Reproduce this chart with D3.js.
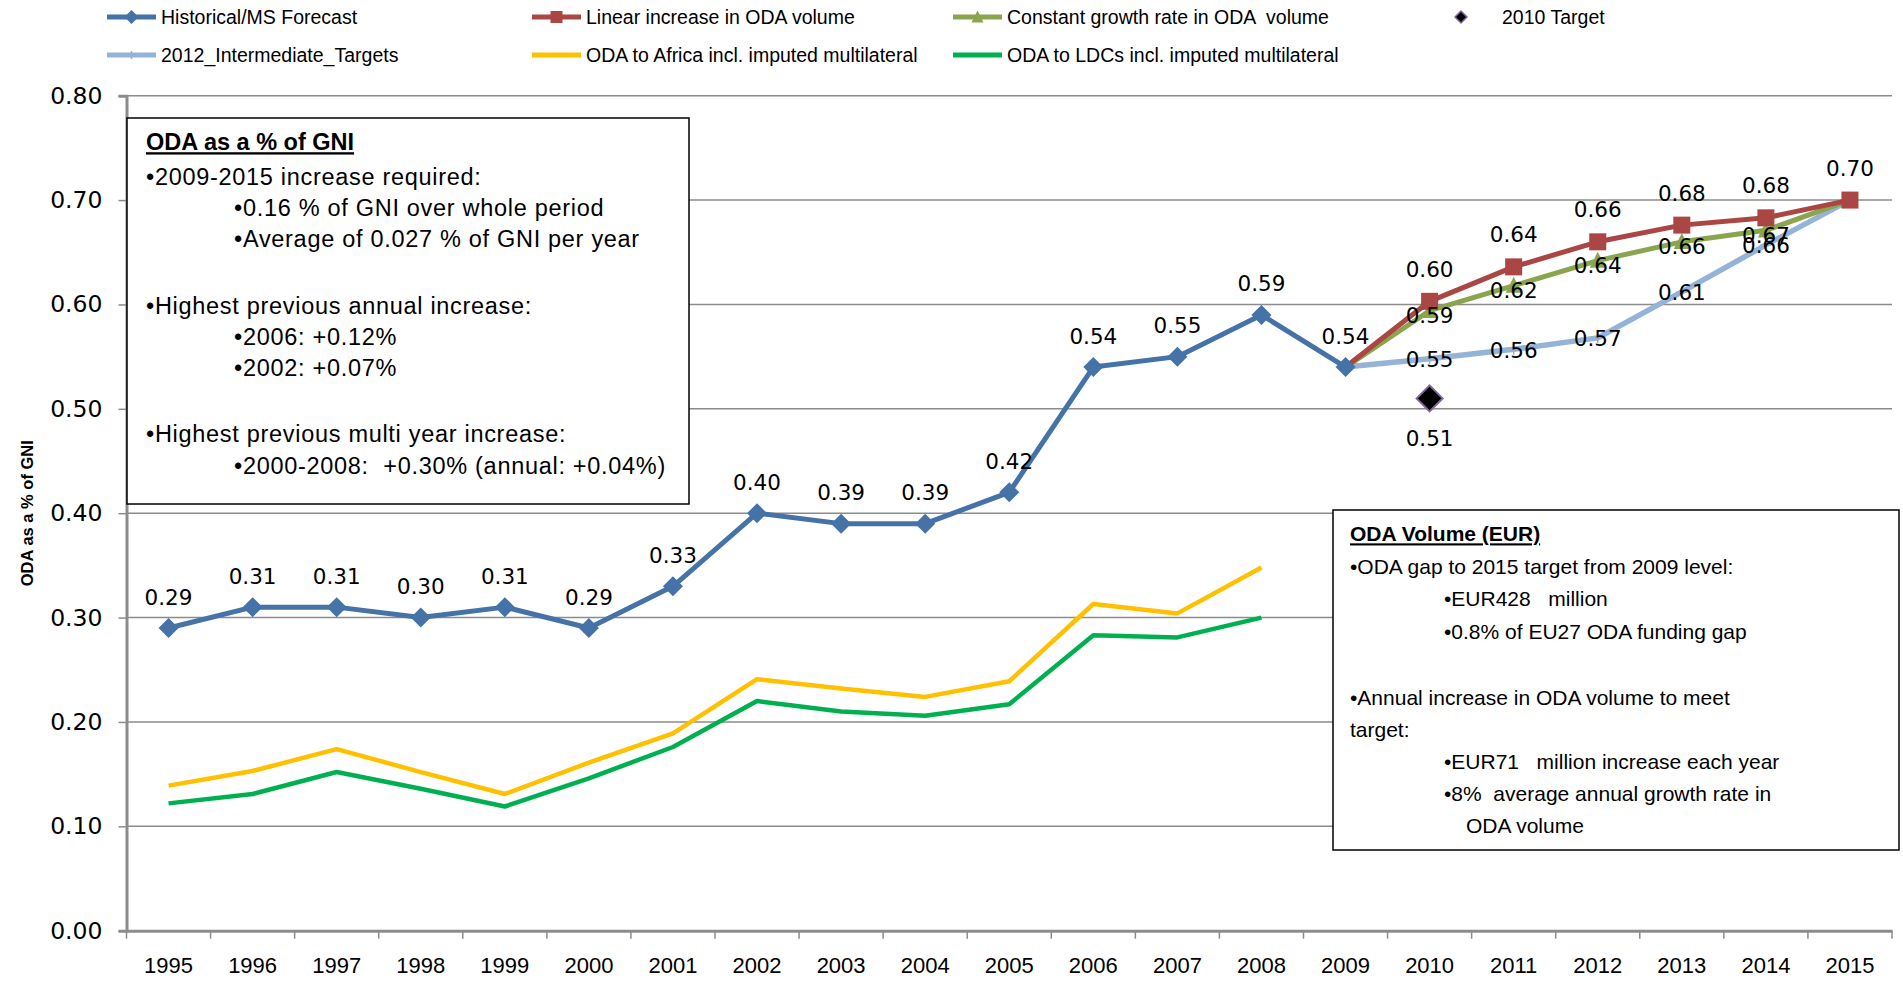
<!DOCTYPE html>
<html>
<head>
<meta charset="utf-8">
<script src="https://cdn.jsdelivr.net/npm/d3@7"></script>
<style>
body { margin: 0; background: #fff; }
text { font-family: "Liberation Sans", Arial, sans-serif; }
.lbl { font-family: "DejaVu Sans", Verdana, sans-serif; font-size: 21.5px; fill: #000; }
</style>
</head>
<body>
<div class="chart"></div>
<script>
// data
var years = [1995,1996,1997,1998,1999,2000,2001,2002,2003,2004,2005,2006,2007,2008,2009,2010,2011,2012,2013,2014,2015];
var histYears = [1995,1996,1997,1998,1999,2000,2001,2002,2003,2004,2005,2006,2007,2008,2009];
var historical = [0.29,0.31,0.31,0.30,0.31,0.29,0.33,0.40,0.39,0.39,0.42,0.54,0.55,0.59,0.54];
var forecastYears = [2009,2010,2011,2012,2013,2014,2015];
var linearIncrease = [0.54,0.603,0.636,0.660,0.676,0.683,0.700];
var constantGrowth = [0.54,0.594,0.618,0.642,0.660,0.671,0.700];
var intermediateTargets = [0.54,0.548,0.557,0.568,0.612,0.657,0.700];
var target2010 = [0.51];
var regionYears = [1995,1996,1997,1998,1999,2000,2001,2002,2003,2004,2005,2006,2007,2008];
var africa = [0.139,0.153,0.174,0.152,0.131,0.161,0.189,0.241,0.232,0.224,0.239,0.313,0.304,0.348];
var ldcs = [0.122,0.131,0.152,0.136,0.119,0.146,0.176,0.220,0.210,0.206,0.217,0.283,0.281,0.300];
var yTicks = [0,0.1,0.2,0.3,0.4,0.5,0.6,0.7,0.8];

var W = 1903, H = 981;
var plotLeft = 126.5, plotRight = 1892, plotTop = 95.7, plotBottom = 930.7;

var svg = d3.select(".chart").append("svg")
    .attr("width", W)
    .attr("height", H);

var x = d3.scaleBand().domain(years).range([plotLeft, plotRight]);
var y = d3.scaleLinear().domain([0, 0.8]).range([plotBottom, plotTop]);
var cx = function(yr) { return x(yr) + x.bandwidth() / 2; };
var fmt = d3.format(".2f");

// gridlines
svg.append("g").selectAll("line")
    .data(yTicks.filter(function(d) { return d > 0; }))
    .enter().append("line")
    .attr("x1", plotLeft).attr("x2", plotRight)
    .attr("y1", function(d) { return y(d); })
    .attr("y2", function(d) { return y(d); })
    .attr("stroke", "#8c8c8c")
    .attr("stroke-width", 1.5);

// y axis
var yAxis = svg.append("g")
    .attr("transform", "translate(" + plotLeft + ",0)")
    .call(d3.axisLeft(y).tickValues(yTicks).tickFormat(fmt).tickSize(8).tickPadding(16));
yAxis.select(".domain").attr("stroke", "#8c8c8c").attr("stroke-width", 3);
yAxis.selectAll(".tick line").attr("stroke", "#8c8c8c").attr("stroke-width", 1.5);
yAxis.selectAll(".tick text")
    .style("font-family", "'DejaVu Sans', Verdana, sans-serif")
    .style("font-size", "23.5px")
    .attr("fill", "#000");

// x axis (labels centred in bands, ticks between)
var xAxis = svg.append("g")
    .attr("transform", "translate(0," + plotBottom + ")")
    .call(d3.axisBottom(x).tickSize(0).tickPadding(27));
xAxis.select(".domain").attr("stroke", "#8c8c8c").attr("stroke-width", 3);
xAxis.selectAll(".tick text").style("font-size", "22px").attr("fill", "#000");
svg.append("g").selectAll("line")
    .data(years.concat(["end"]))
    .enter().append("line")
    .attr("x1", function(d) { return d === "end" ? plotRight : x(d); })
    .attr("x2", function(d) { return d === "end" ? plotRight : x(d); })
    .attr("y1", plotBottom).attr("y2", plotBottom + 8)
    .attr("stroke", "#8c8c8c")
    .attr("stroke-width", 1.5);

// y title
svg.append("text")
    .attr("transform", "translate(33," + ((plotTop + plotBottom) / 2) + ") rotate(-90)")
    .attr("text-anchor", "middle")
    .style("font-weight", "bold")
    .style("font-size", "16.5px")
    .text("ODA as a % of GNI");

// lines
var line = d3.line()
    .x(function(d) { return cx(d[0]); })
    .y(function(d) { return y(d[1]); });

function pairs(xs, vs) {
    return xs.map(function(yr, i) { return [yr, vs[i]]; });
}

var series = [
    {name: "africa", data: pairs(regionYears, africa), color: "#ffc000", width: 4.5},
    {name: "ldcs", data: pairs(regionYears, ldcs), color: "#00b050", width: 4.5},
    {name: "intermediate", data: pairs(forecastYears, intermediateTargets), color: "#95b3d7", width: 5.5},
    {name: "constant", data: pairs(forecastYears, constantGrowth), color: "#8aa54e", width: 5},
    {name: "linear", data: pairs(forecastYears, linearIncrease), color: "#aa4643", width: 5},
    {name: "historical", data: pairs(histYears, historical), color: "#4572a7", width: 5}
];

svg.append("g").selectAll("path")
    .data(series)
    .enter().append("path")
    .attr("d", function(d) { return line(d.data); })
    .attr("fill", "none")
    .attr("stroke", function(d) { return d.color; })
    .attr("stroke-width", function(d) { return d.width; })
    .attr("stroke-linejoin", "round");

// marker shapes
function diamond(r) { return "M0," + (-r) + "L" + r + ",0L0," + r + "L" + (-r) + ",0Z"; }
function square(s) { return "M" + (-s/2) + "," + (-s/2) + "h" + s + "v" + s + "h" + (-s) + "Z"; }
function triangle(s) { return "M0," + (-s*0.55) + "L" + (s/2) + "," + (s*0.45) + "L" + (-s/2) + "," + (s*0.45) + "Z"; }
function plus(s) { return "M0," + (-s/2) + "V" + (s/2) + "M" + (-s/2) + ",0H" + (s/2); }

function drawMarkers(data, path, fill, stroke, sw) {
    svg.append("g").selectAll("path")
        .data(data)
        .enter().append("path")
        .attr("transform", function(d) { return "translate(" + cx(d[0]) + "," + y(d[1]) + ")"; })
        .attr("d", path)
        .attr("fill", fill)
        .attr("stroke", stroke)
        .attr("stroke-width", sw);
}

drawMarkers(pairs(forecastYears, intermediateTargets).slice(1), plus(11), "none", "#95b3d7", 1.5);
drawMarkers(pairs(forecastYears, constantGrowth).slice(1), triangle(16), "#8aa54e", "none", 0);
drawMarkers(pairs(forecastYears, linearIncrease).slice(1), square(17), "#aa4643", "none", 0);
drawMarkers(pairs(histYears, historical), diamond(10), "#4572a7", "none", 0);
drawMarkers(pairs([2010], target2010), diamond(13), "#000", "#8064a2", 2);

// data labels
function drawLabels(data, dy) {
    svg.append("g").selectAll("text")
        .data(data)
        .enter().append("text")
        .attr("class", "lbl")
        .attr("x", function(d) { return cx(d[0]); })
        .attr("y", function(d) { return y(d[1]) + dy; })
        .attr("text-anchor", "middle")
        .attr("dominant-baseline", "central")
        .text(function(d) { return fmt(d[1]); });
}

drawLabels(pairs(histYears, historical), -31);
drawLabels(pairs(forecastYears, linearIncrease).slice(1), -32);
drawLabels(pairs(forecastYears, constantGrowth).slice(1, 6), 5);
drawLabels(pairs(forecastYears, intermediateTargets).slice(1, 6), 1);
drawLabels(pairs([2010], target2010), 40);

// text boxes
var boxes = [
    {x: 127, y: 118, w: 562, h: 386, size: 23.5, spacing: 0.7, lines: [
        ["ODA as a % of GNI", 146, 142, true],
        ["\u20222009-2015 increase required:", 146, 177],
        ["\u20220.16 % of GNI over whole period", 234, 208],
        ["\u2022Average of 0.027 % of GNI per year", 234, 239],
        ["\u2022Highest previous annual increase:", 146, 306],
        ["\u20222006: +0.12%", 234, 337],
        ["\u20222002: +0.07%", 234, 368],
        ["\u2022Highest previous multi year increase:", 146, 434],
        ["\u20222000-2008:  +0.30% (annual: +0.04%)", 234, 466]
    ]},
    {x: 1333, y: 510, w: 566, h: 340, size: 21, spacing: 0, lines: [
        ["ODA Volume (EUR)", 1350, 534, true],
        ["\u2022ODA gap to 2015 target from 2009 level:", 1350, 567],
        ["\u2022EUR428   million", 1444, 599],
        ["\u20220.8% of EU27 ODA funding gap", 1444, 632],
        ["\u2022Annual increase in ODA volume to meet", 1350, 698],
        ["target:", 1350, 730],
        ["\u2022EUR71   million increase each year", 1444, 762],
        ["\u20228%  average annual growth rate in", 1444, 794],
        ["ODA volume", 1466, 826]
    ]}
];

boxes.forEach(function(b) {
    var g = svg.append("g");
    g.append("rect")
        .attr("x", b.x).attr("y", b.y)
        .attr("width", b.w).attr("height", b.h)
        .attr("fill", "#fff")
        .attr("stroke", "#000")
        .attr("stroke-width", 1.5);
    g.selectAll("text")
        .data(b.lines)
        .enter().append("text")
        .attr("x", function(d) { return d[1]; })
        .attr("y", function(d) { return d[2] + b.size * 0.35; })
        .style("font-size", b.size + "px")
        .style("letter-spacing", function(d) { return d[3] ? "0px" : b.spacing + "px"; })
        .style("white-space", "pre")
        .style("font-weight", function(d) { return d[3] ? "bold" : "normal"; })
        .style("text-decoration", function(d) { return d[3] ? "underline" : "none"; })
        .text(function(d) { return d[0]; });
});

// legend
var legendItems = [
    {label: "Historical/MS Forecast", color: "#4572a7", marker: diamond(7), line: true, lx: 107, ly: 17},
    {label: "Linear increase in ODA volume", color: "#aa4643", marker: square(12), line: true, lx: 532, ly: 17},
    {label: "Constant growth rate in ODA  volume", color: "#8aa54e", marker: triangle(12), line: true, lx: 953, ly: 17},
    {label: "2010 Target", color: "#000", marker: diamond(6), line: false, lx: 1445, ly: 17, tx: 1502},
    {label: "2012_Intermediate_Targets", color: "#95b3d7", marker: plus(8), line: true, lx: 107, ly: 55},
    {label: "ODA to Africa incl. imputed multilateral", color: "#ffc000", marker: null, line: true, lx: 532, ly: 55},
    {label: "ODA to LDCs incl. imputed multilateral", color: "#00b050", marker: null, line: true, lx: 953, ly: 55}
];

var legend = svg.append("g").selectAll("g")
    .data(legendItems)
    .enter().append("g")
    .attr("transform", function(d) { return "translate(" + d.lx + "," + d.ly + ")"; });

legend.filter(function(d) { return d.line; })
    .append("line")
    .attr("x1", 0).attr("x2", 49)
    .attr("stroke", function(d) { return d.color; })
    .attr("stroke-width", 5);

legend.filter(function(d) { return d.marker; })
    .append("path")
    .attr("transform", function(d) { return "translate(" + (d.line ? 24.5 : 16) + ",0)"; })
    .attr("d", function(d) { return d.marker; })
    .attr("fill", function(d) { return d.label === "2012_Intermediate_Targets" ? "none" : d.color; })
    .attr("stroke", function(d) {
        if (d.label === "2010 Target") return "#8064a2";
        return d.label === "2012_Intermediate_Targets" ? d.color : "none";
    })
    .attr("stroke-width", 1.5);

legend.append("text")
    .attr("x", function(d) { return d.tx ? d.tx - d.lx : 54; })
    .attr("y", 0)
    .attr("dominant-baseline", "central")
    .style("font-size", "19.5px")
    .style("white-space", "pre")
    .text(function(d) { return d.label; });
</script>
</body>
</html>
